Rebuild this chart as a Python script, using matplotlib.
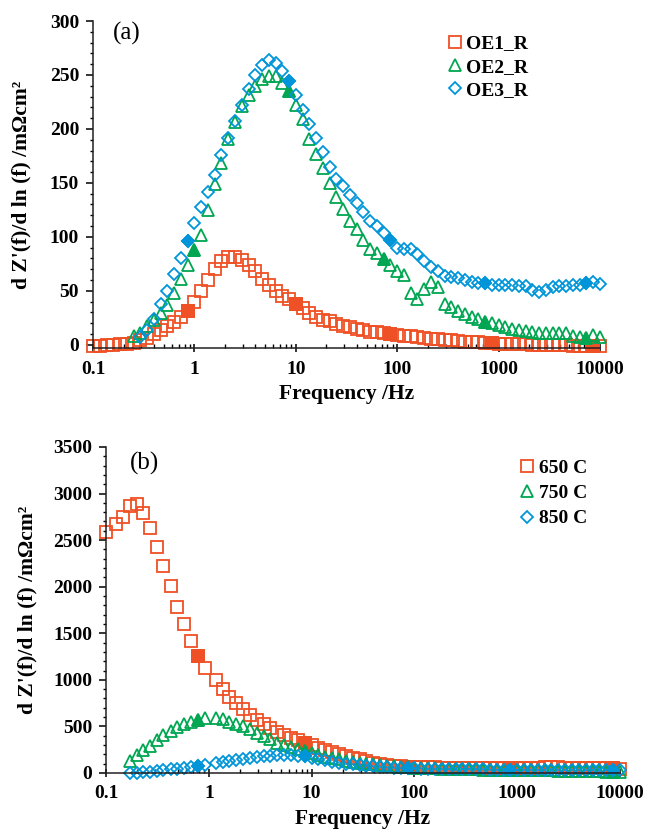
import matplotlib
matplotlib.use('Agg')
import matplotlib.pyplot as plt
from matplotlib.ticker import MultipleLocator, LogLocator, FuncFormatter, NullFormatter

plt.rcParams['font.family'] = ['Liberation Serif', 'DejaVu Serif']
plt.rcParams['font.weight'] = 'bold'

# colours of the three series
rojo = '#EF5025'
verde = '#00A651'
azul = '#0095D8'

# frequencies (Hz), panel (a)
freq_a = [0.1, 0.1166, 0.1359, 0.1585, 0.1848, 0.2154, 0.2512, 0.2929, 0.3415, 0.3981,
          0.4642, 0.5412, 0.631, 0.7356, 0.8577,
          1.0, 1.166, 1.359, 1.585, 1.848, 2.154, 2.512, 2.929, 3.415, 3.981,
          4.642, 5.412, 6.31, 7.356, 8.577,
          10, 11.66, 13.59, 15.85, 18.48, 21.54, 25.12, 29.29, 34.15, 39.81,
          46.42, 54.12, 63.1, 73.56, 85.77,
          100, 116.6, 135.9, 158.5, 184.8, 215.4, 251.2, 292.9, 341.5, 398.1,
          464.2, 541.2, 631, 735.6, 857.7,
          1000, 1166, 1359, 1585, 1848, 2154, 2512, 2929, 3415, 3981,
          4642, 5412, 6310, 7356, 8577,
          10000]

# panel (a) series
oe1 = [-1.5, -1, -0.5, 0, 0.5, 1, 2, 4, 6.5, 10, 13.5, 17, 21, 26, 31,
       40, 50, 60, 70, 78, 81, 81, 79, 74, 68, 61, 55, 50, 45, 42,
       38, 34, 29, 26, 23, 21.6, 19.5, 17.6, 16.3, 14.8, 13.9, 12.3, 11.4, 10.8, 9.9,
       9.2, 8.4, 7.7, 7.0, 6.3, 5.8, 5.2, 4.6, 4.0, 3.5, 3.0, 2.6, 2.2, 1.8, 1.4,
       1.1, 0.9, 0.7, 0.5, 0.3, 0.2, 0.1, 0, -0.1, -0.3, -0.5, -0.7, -0.9, -1.1, -1.3, -1.5]
oe2 = [8, 11, 17, 23, 29, 37, 48, 61, 74,
       88, 102, 125, 149, 168, 191, 206, 221, 231, 240, 246, 249, 249, 243, 235,
       222, 209, 191, 177, 164, 150, 137, 126, 115, 107, 97, 89, 85, 79.5, 74,
       68, 65, 48, 42.6, 52, 58.5, 53.5, 38, 35, 31.5, 28.7, 26, 24, 21.5, 20.4,
       18.5, 16.7, 15, 13.6, 12.7, 12, 11, 11, 11, 11, 10.5, 8, 7.4, 6, 9, 6.8]
oe3 = [7, 14, 24, 38, 50, 66, 80, 96,
       113, 128, 142, 157, 176, 192, 207, 222, 237, 250, 259, 264, 261, 254, 244,
       231, 218, 205, 192, 179, 165, 154, 147, 139, 131, 123, 115, 110, 104, 97,
       90, 88.5, 88.5, 84, 78, 72, 68, 64, 63, 62, 60, 58.5, 57.6, 57, 55.6,
       55.6, 55.6, 55, 54.6, 54.6, 51, 48.5, 51, 54, 54.6, 54.6, 55, 55.6, 57, 58.5, 56.4]
inicio_a = [0, 6, 7]
llenos_a = [[14, 30, 44, 59, 74], [15, 29, 43, 58, 73], [14, 29, 44, 58, 73]]
etiquetas_a = ['OE1_R', 'OE2_R', 'OE3_R']

# frequencies (Hz), panel (b)
freq_b = [0.1, 0.125, 0.146, 0.171, 0.199, 0.231, 0.268, 0.311, 0.361, 0.426,
          0.495, 0.574, 0.668, 0.79, 0.92,
          1.166, 1.359, 1.585, 1.848, 2.154, 2.512, 2.929, 3.415, 3.981,
          4.642, 5.412, 6.31, 7.356, 8.577,
          10, 11.66, 13.59, 15.85, 18.48, 21.54, 25.12, 29.29, 34.15, 39.81,
          46.42, 54.12, 63.1, 73.56, 85.77,
          100, 116.6, 135.9, 158.5, 184.8, 215.4, 251.2, 292.9, 341.5, 398.1,
          464.2, 541.2, 631, 735.6, 857.7,
          1000, 1166, 1359, 1585, 1848, 2154, 2512, 2929, 3415, 3981,
          4642, 5412, 6310, 7356, 8577,
          10000]

# panel (b) series
t650 = [2592, 2674, 2753, 2868, 2886, 2789, 2628, 2431, 2223, 2009, 1786, 1597, 1421, 1260, 1124,
        999, 905, 820, 750, 685, 625, 572, 524, 482, 445, 410, 380, 352, 326,
        301, 268, 245, 225, 205, 185, 165, 145, 128, 112, 98, 86, 77, 72, 68,
        66, 64, 62, 60, 58, 57, 56, 55, 54, 53, 52, 52, 51, 51, 50,
        50, 50, 52, 56, 60, 62, 60, 56, 52, 50, 50, 50, 50, 50, 50, 48]
t750 = [132, 193, 247, 290, 354, 408, 454, 497, 526, 551, 569, 587,
        587, 577, 551, 526, 505, 469, 433, 397, 362, 326, 301, 276, 254, 240,
        211, 193, 175, 158, 145, 132, 120, 110, 100, 92, 85, 78, 72, 67, 62,
        58, 55, 52, 49, 47, 45, 43, 41, 40, 38, 37, 36, 35, 34, 33,
        32, 31, 30, 29, 28, 27, 26, 25, 24, 22, 20, 18, 16, 14, 13, 12]
t850 = [3, 5, 9, 14, 20, 28, 38, 48, 57, 66, 74, 86,
        104, 118, 132, 144, 155, 165, 173, 180, 186, 190, 192, 191, 187, 178,
        160, 147, 134, 122, 110, 100, 92, 84, 77, 71, 66, 61, 57, 54, 51,
        49, 47, 45, 44, 43, 42, 41, 40, 39, 38, 38, 37, 37, 36, 36,
        35, 35, 35, 34, 34, 34, 34, 33, 33, 33, 33, 32, 32, 32, 32, 32]
inicio_b = [0, 3, 3]
llenos_b = [[13, 28, 43, 58, 73], [13, 28, 43, 58, 73], [13, 28, 43, 58, 73]]
etiquetas_b = ['650 C', '750 C', '850 C']

colores = [rojo, verde, azul]
marcas = ['s', '^', 'D']
tamanos = [8, 8.5, 6]

fig = plt.figure(figsize=(6.46, 8.38), dpi=100)
ax1 = fig.add_axes([0.144, 0.5847, 0.7848, 0.3902])
ax2 = fig.add_axes([0.1641, 0.0776, 0.7957, 0.3890])


def dibujar(ax, freq, series, inicios, llenos, etiquetas):
    manijas = []
    for serie, ini, llen, c, m, ms, et in zip(series, inicios, llenos, colores, marcas, tamanos, etiquetas):
        f = freq[ini:ini + len(serie)]
        linea, = ax.plot(f, serie, linestyle='none', marker=m, ms=ms, mfc='none',
                         mec=c, mew=1.3, label=et, clip_on=False)
        # puntos rellenos
        fl = [freq[i] for i in llen]
        vl = [serie[i - ini] for i in llen]
        ax.plot(fl, vl, linestyle='none', marker=m, ms=ms, mfc=c, mec=c, mew=1.3, clip_on=False)
        manijas.append(linea)
    return manijas


def ejes(ax, ymax, ymin, mayor, menor, x_label_y):
    ax.set_xscale('log')
    ax.set_xlim(0.1, 10000)
    ax.set_ylim(ymin, ymax)
    for lado in ['top', 'right']:
        ax.spines[lado].set_visible(False)
    for lado in ['left', 'bottom']:
        ax.spines[lado].set_linewidth(1.1)
        ax.spines[lado].set_color('#231F20')
    ax.yaxis.set_major_locator(MultipleLocator(mayor))
    ax.yaxis.set_minor_locator(MultipleLocator(menor))
    ax.xaxis.set_major_locator(LogLocator(base=10))
    ax.xaxis.set_minor_locator(LogLocator(base=10, subs=range(2, 10)))
    ax.xaxis.set_minor_formatter(NullFormatter())
    ax.xaxis.set_major_formatter(FuncFormatter(lambda v, p: '%g' % v))
    ax.tick_params(axis='y', which='major', direction='out', length=5, width=1.1, pad=5, labelsize=14)
    ax.tick_params(axis='y', which='minor', direction='out', length=2.5, width=1.0)
    ax.tick_params(axis='x', which='major', direction='inout', length=6, width=1.1, pad=6, labelsize=14)
    ax.tick_params(axis='x', which='minor', direction='in', length=3, width=1.0)
    ax.set_xlabel('Frequency /Hz', fontsize=15.5, fontweight='bold', labelpad=5)
    ax.set_ylabel("d Z'(f)/d ln (f) /m\u03a9cm\u00b2", fontsize=15.5, fontweight='bold')
    ax.yaxis.set_label_coords(x_label_y, 0.5)


man1 = dibujar(ax1, freq_a, [oe1, oe2, oe3], inicio_a, llenos_a, etiquetas_a)
ejes(ax1, 300, -3, 50, 10, -0.122)
ax1.text(0.04, 0.962, '(a)', transform=ax1.transAxes, fontsize=18, fontweight='normal', va='center')
ax1.legend(handles=man1, loc='upper left', bbox_to_anchor=(0.694, 0.958), frameon=False,
           fontsize=14, handlelength=1.0, handletextpad=0.1, labelspacing=0.29, borderpad=0,
           borderaxespad=0)

man2 = dibujar(ax2, freq_b, [t650, t750, t850], inicio_b, llenos_b, etiquetas_b)
ejes(ax2, 3500, 0, 500, 100, -0.134)
ax2.text(0.047, 0.95, '(b)', transform=ax2.transAxes, fontsize=18, fontweight='normal', va='center')
ax2.legend(handles=man2, loc='upper left', bbox_to_anchor=(0.80, 0.963), frameon=False,
           fontsize=14, handlelength=1.0, handletextpad=0.1, labelspacing=0.4, borderpad=0,
           borderaxespad=0)

plt.savefig('out.png', dpi=100)
